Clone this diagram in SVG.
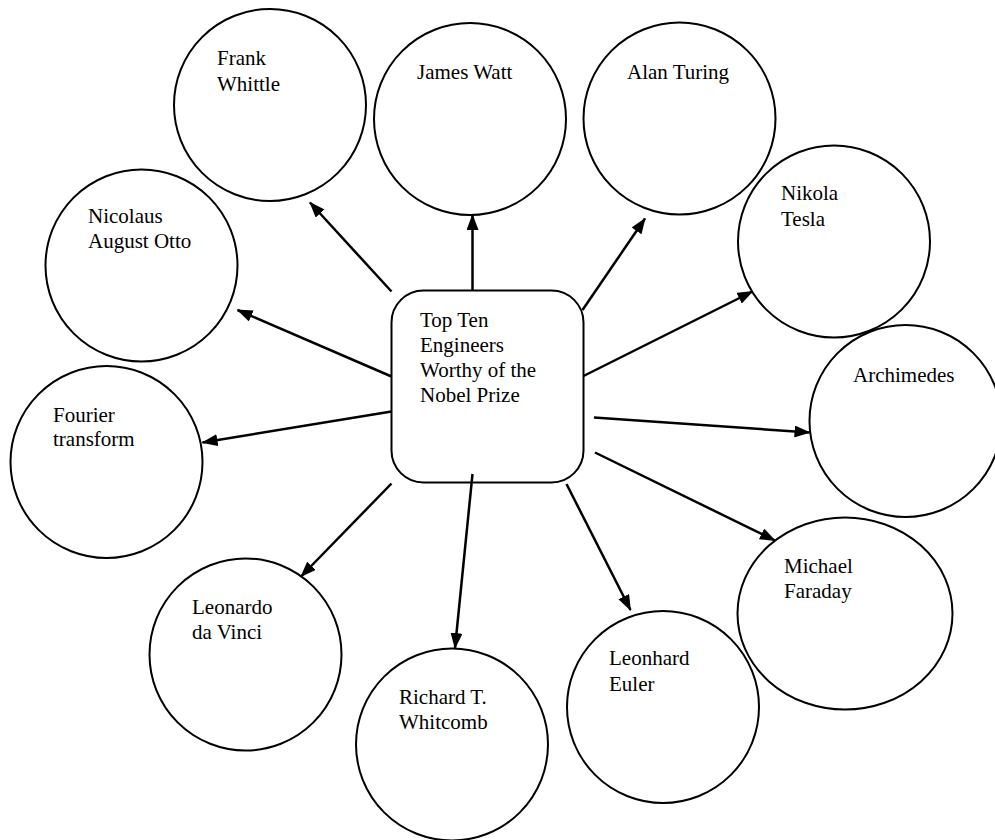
<svg xmlns="http://www.w3.org/2000/svg" width="995" height="840" viewBox="0 0 995 840">
<style>
.n{fill:#fff;stroke:#000;stroke-width:2}
.t{font-family:"Liberation Serif","Times New Roman",serif;font-size:21px;fill:#000}
.c line{stroke:#000;stroke-width:2.5;marker-end:url(#ah)}
</style>
<defs>
<marker id="ah" viewBox="0 0 16 12" refX="15" refY="6" markerWidth="16" markerHeight="12" markerUnits="userSpaceOnUse" orient="auto">
<path d="M0,0 L16,6 L0,12 z" fill="#000"/>
</marker>
</defs>
<rect width="995" height="840" fill="#fff"/>
<g id="center">
<rect class="n" x="391.5" y="290.5" width="192" height="192" rx="32"/>
<text class="t" x="420" y="327">Top Ten</text>
<text class="t" x="420" y="352">Engineers</text>
<text class="t" x="420" y="377">Worthy of the</text>
<text class="t" x="420" y="402">Nobel Prize</text>
</g>
<g id="whittle"><circle class="n" cx="270" cy="105" r="96"/><text class="t" x="217" y="65">Frank</text><text class="t" x="217" y="91">Whittle</text></g>
<g id="watt"><circle class="n" cx="470" cy="119" r="96"/><text class="t" x="417" y="79">James Watt</text></g>
<g id="turing"><circle class="n" cx="679.5" cy="118.5" r="96"/><text class="t" x="627" y="79">Alan Turing</text></g>
<g id="tesla"><circle class="n" cx="834" cy="241.5" r="96"/><text class="t" x="781" y="200">Nikola</text><text class="t" x="781" y="226">Tesla</text></g>
<g id="archimedes"><circle class="n" cx="905.5" cy="421" r="96"/><text class="t" x="853" y="382">Archimedes</text></g>
<g id="faraday"><ellipse class="n" cx="845" cy="613.5" rx="107.5" ry="96"/><text class="t" x="784" y="573">Michael</text><text class="t" x="784" y="598">Faraday</text></g>
<g id="euler"><circle class="n" cx="663" cy="707" r="96"/><text class="t" x="609" y="665">Leonhard</text><text class="t" x="609" y="691">Euler</text></g>
<g id="whitcomb"><circle class="n" cx="452" cy="744.5" r="96"/><text class="t" x="399" y="704">Richard T.</text><text class="t" x="399" y="729">Whitcomb</text></g>
<g id="davinci"><circle class="n" cx="245.5" cy="654.5" r="96"/><text class="t" x="192" y="614">Leonardo</text><text class="t" x="192" y="639">da Vinci</text></g>
<g id="fourier"><circle class="n" cx="106.5" cy="462" r="96"/><text class="t" x="53" y="422">Fourier</text><text class="t" x="53" y="446">transform</text></g>
<g id="otto"><circle class="n" cx="141.5" cy="265.5" r="96"/><text class="t" x="88" y="223">Nicolaus</text><text class="t" x="88" y="248">August Otto</text></g>
<g class="c" id="connectors">
<line x1="391.5" y1="291.5" x2="310" y2="202.5"/>
<line x1="472.5" y1="290.5" x2="472.5" y2="215"/>
<line x1="582.5" y1="310" x2="645" y2="218.5"/>
<line x1="583.5" y1="376" x2="752.5" y2="291.5"/>
<line x1="594" y1="417.5" x2="809.5" y2="432.5"/>
<line x1="595" y1="452.5" x2="775" y2="540.5"/>
<line x1="566.5" y1="484" x2="630.5" y2="610"/>
<line x1="472.5" y1="474" x2="455" y2="648"/>
<line x1="391.5" y1="483.5" x2="301" y2="576.5"/>
<line x1="391.5" y1="411.5" x2="202.5" y2="442.5"/>
<line x1="391.5" y1="376.5" x2="237.5" y2="310"/>
</g>
</svg>
